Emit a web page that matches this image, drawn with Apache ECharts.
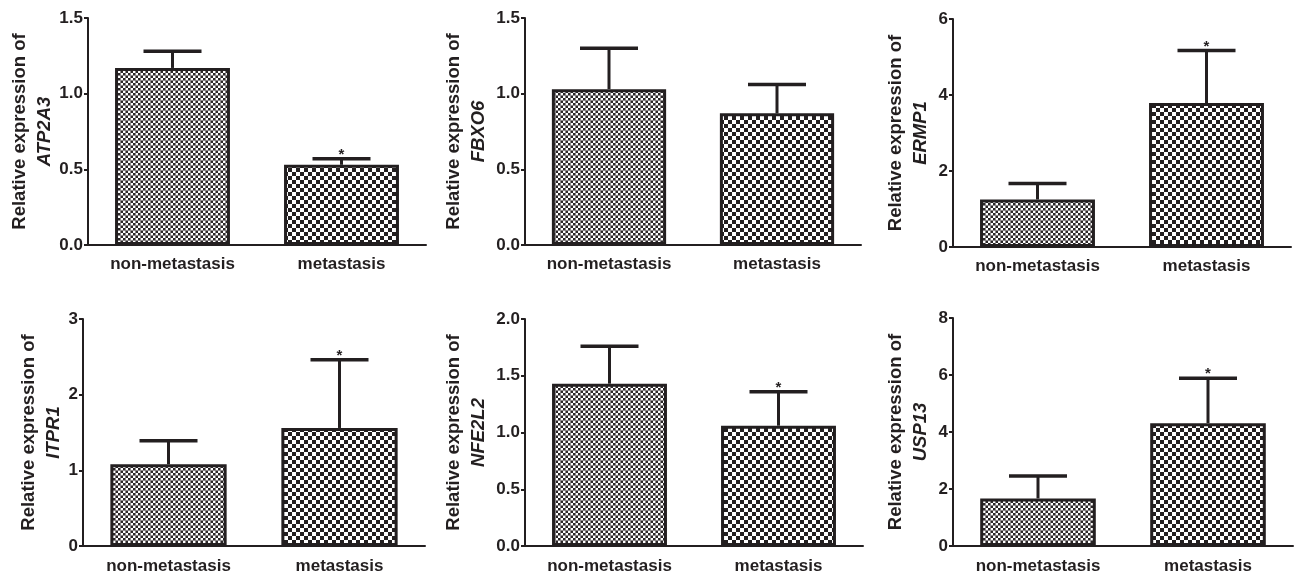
<!DOCTYPE html>
<html>
<head>
<meta charset="utf-8">
<style>
  html, body { margin: 0; padding: 0; background: #ffffff; }
  #main { width: 1294px; height: 575px; }
</style>
</head>
<body>
<div id="main"></div>
<script src="https://cdn.jsdelivr.net/npm/echarts@6/dist/echarts.min.js"></script>
<script>
// data
var groups = ['non-metastasis', 'metastasis'];
var genes = ['ATP2A3', 'FBXO6', 'ERMP1', 'ITPR1', 'NFE2L2', 'USP13'];
var nonMean = [1.17, 1.03, 1.25, 1.08, 1.43, 1.67];
var nonErr  = [0.11, 0.27, 0.42, 0.31, 0.33, 0.79];
var metMean = [0.53, 0.87, 3.79, 1.56, 1.06, 4.31];
var metErr  = [0.04, 0.19, 1.38, 0.90, 0.30, 1.58];
var metStar = [1, 0, 1, 1, 1, 1];
var yMax  = [1.5, 1.5, 6, 3, 2.0, 8];
var yStep = [0.5, 0.5, 2, 1, 0.5, 2];
var yDec  = [1, 1, 0, 0, 1, 0];

// panel placement (px)
var boxes = [
  {left: 88,  top: 18,  width: 338, height: 227, gap: 31, lab: 11},
  {left: 525, top: 18,  width: 336, height: 227, gap: 34, lab: 11},
  {left: 953, top: 19,  width: 338, height: 228, gap: 20, lab: 11},
  {left: 83,  top: 319, width: 342, height: 228, gap: 17, lab: 12},
  {left: 525, top: 319, width: 338, height: 228, gap: 34, lab: 12},
  {left: 953, top: 318, width: 340, height: 228, gap: 20, lab: 12}
];

var ink = '#231f20';
var font = '"Liberation Sans", Arial, sans-serif';

// fill patterns
function finePattern() {
  var c = document.createElement('canvas');
  c.width = c.height = 5;
  var g = c.getContext('2d');
  g.fillStyle = '#ffffff'; g.fillRect(0, 0, 5, 5);
  g.fillStyle = '#8a8688'; g.fillRect(0, 0, 5, 1); g.fillRect(0, 0, 1, 5);
  g.fillStyle = '#2b2728';
  g.fillRect(1, 1, 2, 2);
  g.fillRect(3, 3, 2, 2);
  return {image: c, repeat: 'repeat'};
}
function checkPattern(cell) {
  var c = document.createElement('canvas');
  c.width = c.height = cell * 2;
  var g = c.getContext('2d');
  g.fillStyle = '#ffffff'; g.fillRect(0, 0, cell * 2, cell * 2);
  g.fillStyle = ink;
  g.fillRect(0, 0, cell, cell);
  g.fillRect(cell, cell, cell, cell);
  return {image: c, repeat: 'repeat'};
}
var patNon = finePattern();
var patMet = checkPattern(4);

function renderErr(params, api) {
  var m = api.value(1), e = api.value(2);
  var base = api.coord([api.value(0), m]);
  var top = api.coord([api.value(0), m + e]);
  var half = 29;
  var kids = [
    {type: 'line', shape: {x1: base[0], y1: base[1], x2: top[0], y2: top[1]},
     style: {stroke: ink, lineWidth: 3}},
    {type: 'line', shape: {x1: top[0] - half, y1: top[1], x2: top[0] + half, y2: top[1]},
     style: {stroke: ink, lineWidth: 3.5}}
  ];
  if (api.value(3)) {
    kids.push({type: 'text', style: {text: '*', x: top[0], y: top[1] - 4,
      textAlign: 'center', textVerticalAlign: 'middle',
      font: 'bold 15px ' + font, fill: ink}});
  }
  return {type: 'group', children: kids};
}

var grid = [], xAxis = [], yAxis = [], series = [];
genes.forEach(function (gene, i) {
  var b = boxes[i];
  grid.push({left: b.left, top: b.top, width: b.width, height: b.height});
  xAxis.push({
    type: 'category', gridIndex: i, data: groups,
    axisLine: {lineStyle: {color: ink, width: 2}},
    axisTick: {alignWithLabel: true, length: 6, lineStyle: {color: ink, width: 2}},
    axisLabel: {color: ink, fontSize: 17, fontWeight: 'bold', fontFamily: font, margin: b.lab}
  });
  yAxis.push({
    type: 'value', gridIndex: i, min: 0, max: yMax[i], interval: yStep[i],
    axisLine: {show: true, lineStyle: {color: ink, width: 2}},
    axisTick: {show: true, length: 4, lineStyle: {color: ink, width: 2}},
    splitLine: {show: false},
    axisLabel: {color: ink, fontSize: 17, fontWeight: 'bold', fontFamily: font, margin: 5,
      formatter: function (v) { return v.toFixed(yDec[i]); }},
    name: '{a|Relative expression of}\n{b|' + gene + '}',
    nameLocation: 'middle', nameRotate: 90, nameGap: b.gap,
    nameTextStyle: {
      align: 'center',
      rich: {
        a: {fontSize: 18.5, fontWeight: 'bold', fontFamily: font, color: ink,
            lineHeight: 25, width: 210, align: 'center'},
        b: {fontSize: 18.5, fontWeight: 'bold', fontStyle: 'italic', fontFamily: font, color: ink,
            lineHeight: 25, width: 210, align: 'center'}
      }
    }
  });
  series.push({
    type: 'bar', xAxisIndex: i, yAxisIndex: i, barWidth: '68%',
    itemStyle: {borderColor: ink, borderWidth: 3},
    data: [
      {value: nonMean[i], itemStyle: {color: patNon}},
      {value: metMean[i], itemStyle: {color: patMet}}
    ]
  });
  series.push({
    type: 'custom', xAxisIndex: i, yAxisIndex: i, renderItem: renderErr,
    encode: {x: 0, y: 1}, z: 3,
    data: [[0, nonMean[i], nonErr[i], 0], [1, metMean[i], metErr[i], metStar[i]]]
  });
});

var chart = echarts.init(document.getElementById('main'));
chart.setOption({
  animation: false,
  backgroundColor: '#ffffff',
  grid: grid, xAxis: xAxis, yAxis: yAxis, series: series
});
</script>
</body>
</html>
